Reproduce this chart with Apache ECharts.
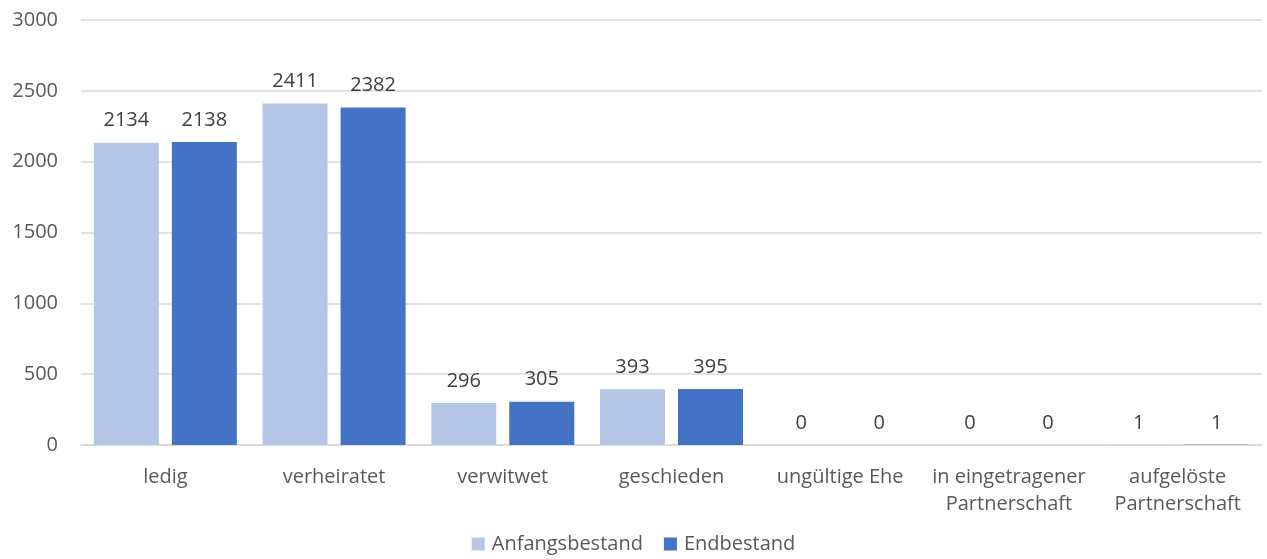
<!DOCTYPE html>
<html><head><meta charset="utf-8">
<script src="https://cdn.jsdelivr.net/npm/echarts@6/dist/echarts.min.js"></script>
<style>html,body{margin:0;padding:0;background:#fff}#c{width:1267px;height:559px}</style>
</head><body><div id="c"></div>
<script>
const categories = ['ledig','verheiratet','verwitwet','geschieden','ungültige Ehe','in eingetragener\nPartnerschaft','aufgelöste\nPartnerschaft'];
const anfangsbestand = [2134, 2411, 296, 393, 0, 0, 1];
const endbestand = [2138, 2382, 305, 395, 0, 0, 1];
const yTicks = {min: 0, max: 3000, interval: 500};
const font = 'Open Sans';
const fs = 20;
const chart = echarts.init(document.getElementById('c'));
const lbl = {show: true, position: 'top', distance: 12, color: '#404040', fontSize: fs, fontFamily: font};
chart.setOption({
  animation: false,
  grid: {left: 81, right: 5, top: 20, bottom: 114},
  legend: {
    bottom: 0, left: 'center', itemWidth: 13, itemHeight: 13, itemGap: 21,
    icon: 'rect',
    textStyle: {color: '#595959', fontSize: fs, fontFamily: font, padding: [0,0,0,2]},
    data: ['Anfangsbestand', 'Endbestand']
  },
  xAxis: {
    type: 'category', data: categories,
    axisLine: {lineStyle: {color: '#d9d9d9', width: 1.5}},
    axisTick: {show: false},
    axisLabel: {color: '#595959', fontSize: fs, fontFamily: font, margin: 19, lineHeight: 27, interval: 0}
  },
  yAxis: {
    type: 'value', min: yTicks.min, max: yTicks.max, interval: yTicks.interval,
    axisLine: {show: false}, axisTick: {show: false},
    splitLine: {lineStyle: {color: '#d9d9d9', width: 1.5}},
    axisLabel: {color: '#595959', fontSize: fs, fontFamily: font, margin: 23, formatter: v => String(v)}
  },
  series: [
    {name: 'Anfangsbestand', type: 'bar', data: anfangsbestand, barWidth: 65, barGap: '20%',
     itemStyle: {color: '#B4C7E7'}, label: lbl},
    {name: 'Endbestand', type: 'bar', data: endbestand, barWidth: 65,
     itemStyle: {color: '#4472C4'}, label: lbl}
  ]
});
</script></body></html>
